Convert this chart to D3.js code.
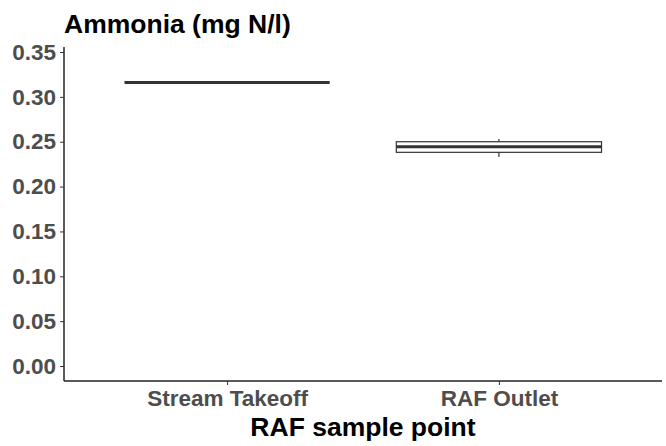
<!DOCTYPE html>
<html>
<head>
<meta charset="utf-8">
<script src="https://cdn.jsdelivr.net/npm/d3@7"></script>
<style>
  body { margin: 0; background: #fff; }
  text { font-family: "Liberation Sans", Arial, sans-serif; font-weight: bold; }
</style>
</head>
<body>
<div id="chart"></div>
<script>
// sample points and their box summaries (mg N/l)
const categories = ['Stream Takeoff', 'RAF Outlet'];
const lowWhisker = [0.316, 0.233];
const q1 = [0.316, 0.2382];
const medians = [0.316, 0.2444];
const q3 = [0.316, 0.250];
const highWhisker = [0.316, 0.253];
const yTicks = [0, 0.05, 0.10, 0.15, 0.20, 0.25, 0.30, 0.35];

const boxes = categories.map((c, i) => ({
  cat: c, lo: lowWhisker[i], q1: q1[i], med: medians[i], q3: q3[i], hi: highWhisker[i]
}));

const margin = {top: 47, left: 64, right: 4, bottom: 65},
      W = 666, H = 446,
      width = W - margin.left - margin.right,
      height = H - margin.top - margin.bottom;

const svg = d3.select('#chart').append('svg')
  .attr('width', W)
  .attr('height', H);

const g = svg.append('g')
  .attr('transform', 'translate(' + margin.left + ',' + margin.top + ')');

// discrete axis with 0.6 unit padding on each side, like ggplot
const x = d3.scalePoint()
  .domain(categories)
  .range([0, width])
  .padding(0.6);
const step = x.step();
const boxW = step * 0.755;

const y = d3.scaleLinear()
  .domain([-0.0167, 0.3556])
  .range([height, 0]);

// whiskers
g.selectAll('line.whisker')
  .data(boxes.filter(d => d.hi > d.lo))
  .enter().append('line')
    .attr('class', 'whisker')
    .attr('x1', d => x(d.cat)).attr('x2', d => x(d.cat))
    .attr('y1', d => y(d.hi)).attr('y2', d => y(d.lo))
    .attr('stroke', '#333').attr('stroke-width', 1.2);

// boxes
g.selectAll('rect.box')
  .data(boxes.filter(d => d.q3 > d.q1))
  .enter().append('rect')
    .attr('class', 'box')
    .attr('x', d => x(d.cat) - boxW / 2)
    .attr('width', boxW)
    .attr('y', d => y(d.q3))
    .attr('height', d => y(d.q1) - y(d.q3))
    .attr('fill', '#fff')
    .attr('stroke', '#333').attr('stroke-width', 1.2);

// medians
g.selectAll('line.median')
  .data(boxes)
  .enter().append('line')
    .attr('class', 'median')
    .attr('x1', d => x(d.cat) - boxW / 2).attr('x2', d => x(d.cat) + boxW / 2)
    .attr('y1', d => y(d.med)).attr('y2', d => y(d.med))
    .attr('stroke', '#333').attr('stroke-width', 3);

// axes
const yAxis = d3.axisLeft(y).tickValues(yTicks).tickFormat(d3.format('.2f')).tickSize(4).tickPadding(4);
const xAxis = d3.axisBottom(x).tickSize(4).tickPadding(6);

const ya = g.append('g').attr('class', 'y-axis').call(yAxis);
const xa = g.append('g').attr('class', 'x-axis')
  .attr('transform', 'translate(0,' + height + ')')
  .call(xAxis);

[ya, xa].forEach(a => {
  a.select('.domain').attr('stroke', '#222').attr('stroke-width', 1.5);
  a.selectAll('.tick line').attr('stroke', '#333');
  a.selectAll('.tick text')
    .attr('fill', '#4d4d4d')
    .style('font-size', '22.5px')
    .style('font-family', '"Liberation Sans", Arial, sans-serif')
    .style('font-weight', 'bold');
});
ya.select('.domain').attr('d', 'M0,0V' + height);
xa.select('.domain').attr('d', 'M0,0H' + width);
xa.selectAll('.tick text').attr('dy', '0.68em');

// title
svg.append('text')
  .attr('x', margin.left)
  .attr('y', 33)
  .style('font-size', '26.5px')
  .attr('fill', '#000')
  .text('Ammonia (mg N/l)');

// x axis title
svg.append('text')
  .attr('x', margin.left + width / 2)
  .attr('y', 436)
  .style('text-anchor', 'middle')
  .style('font-size', '26.5px')
  .attr('fill', '#000')
  .text('RAF sample point');
</script>
</body>
</html>
